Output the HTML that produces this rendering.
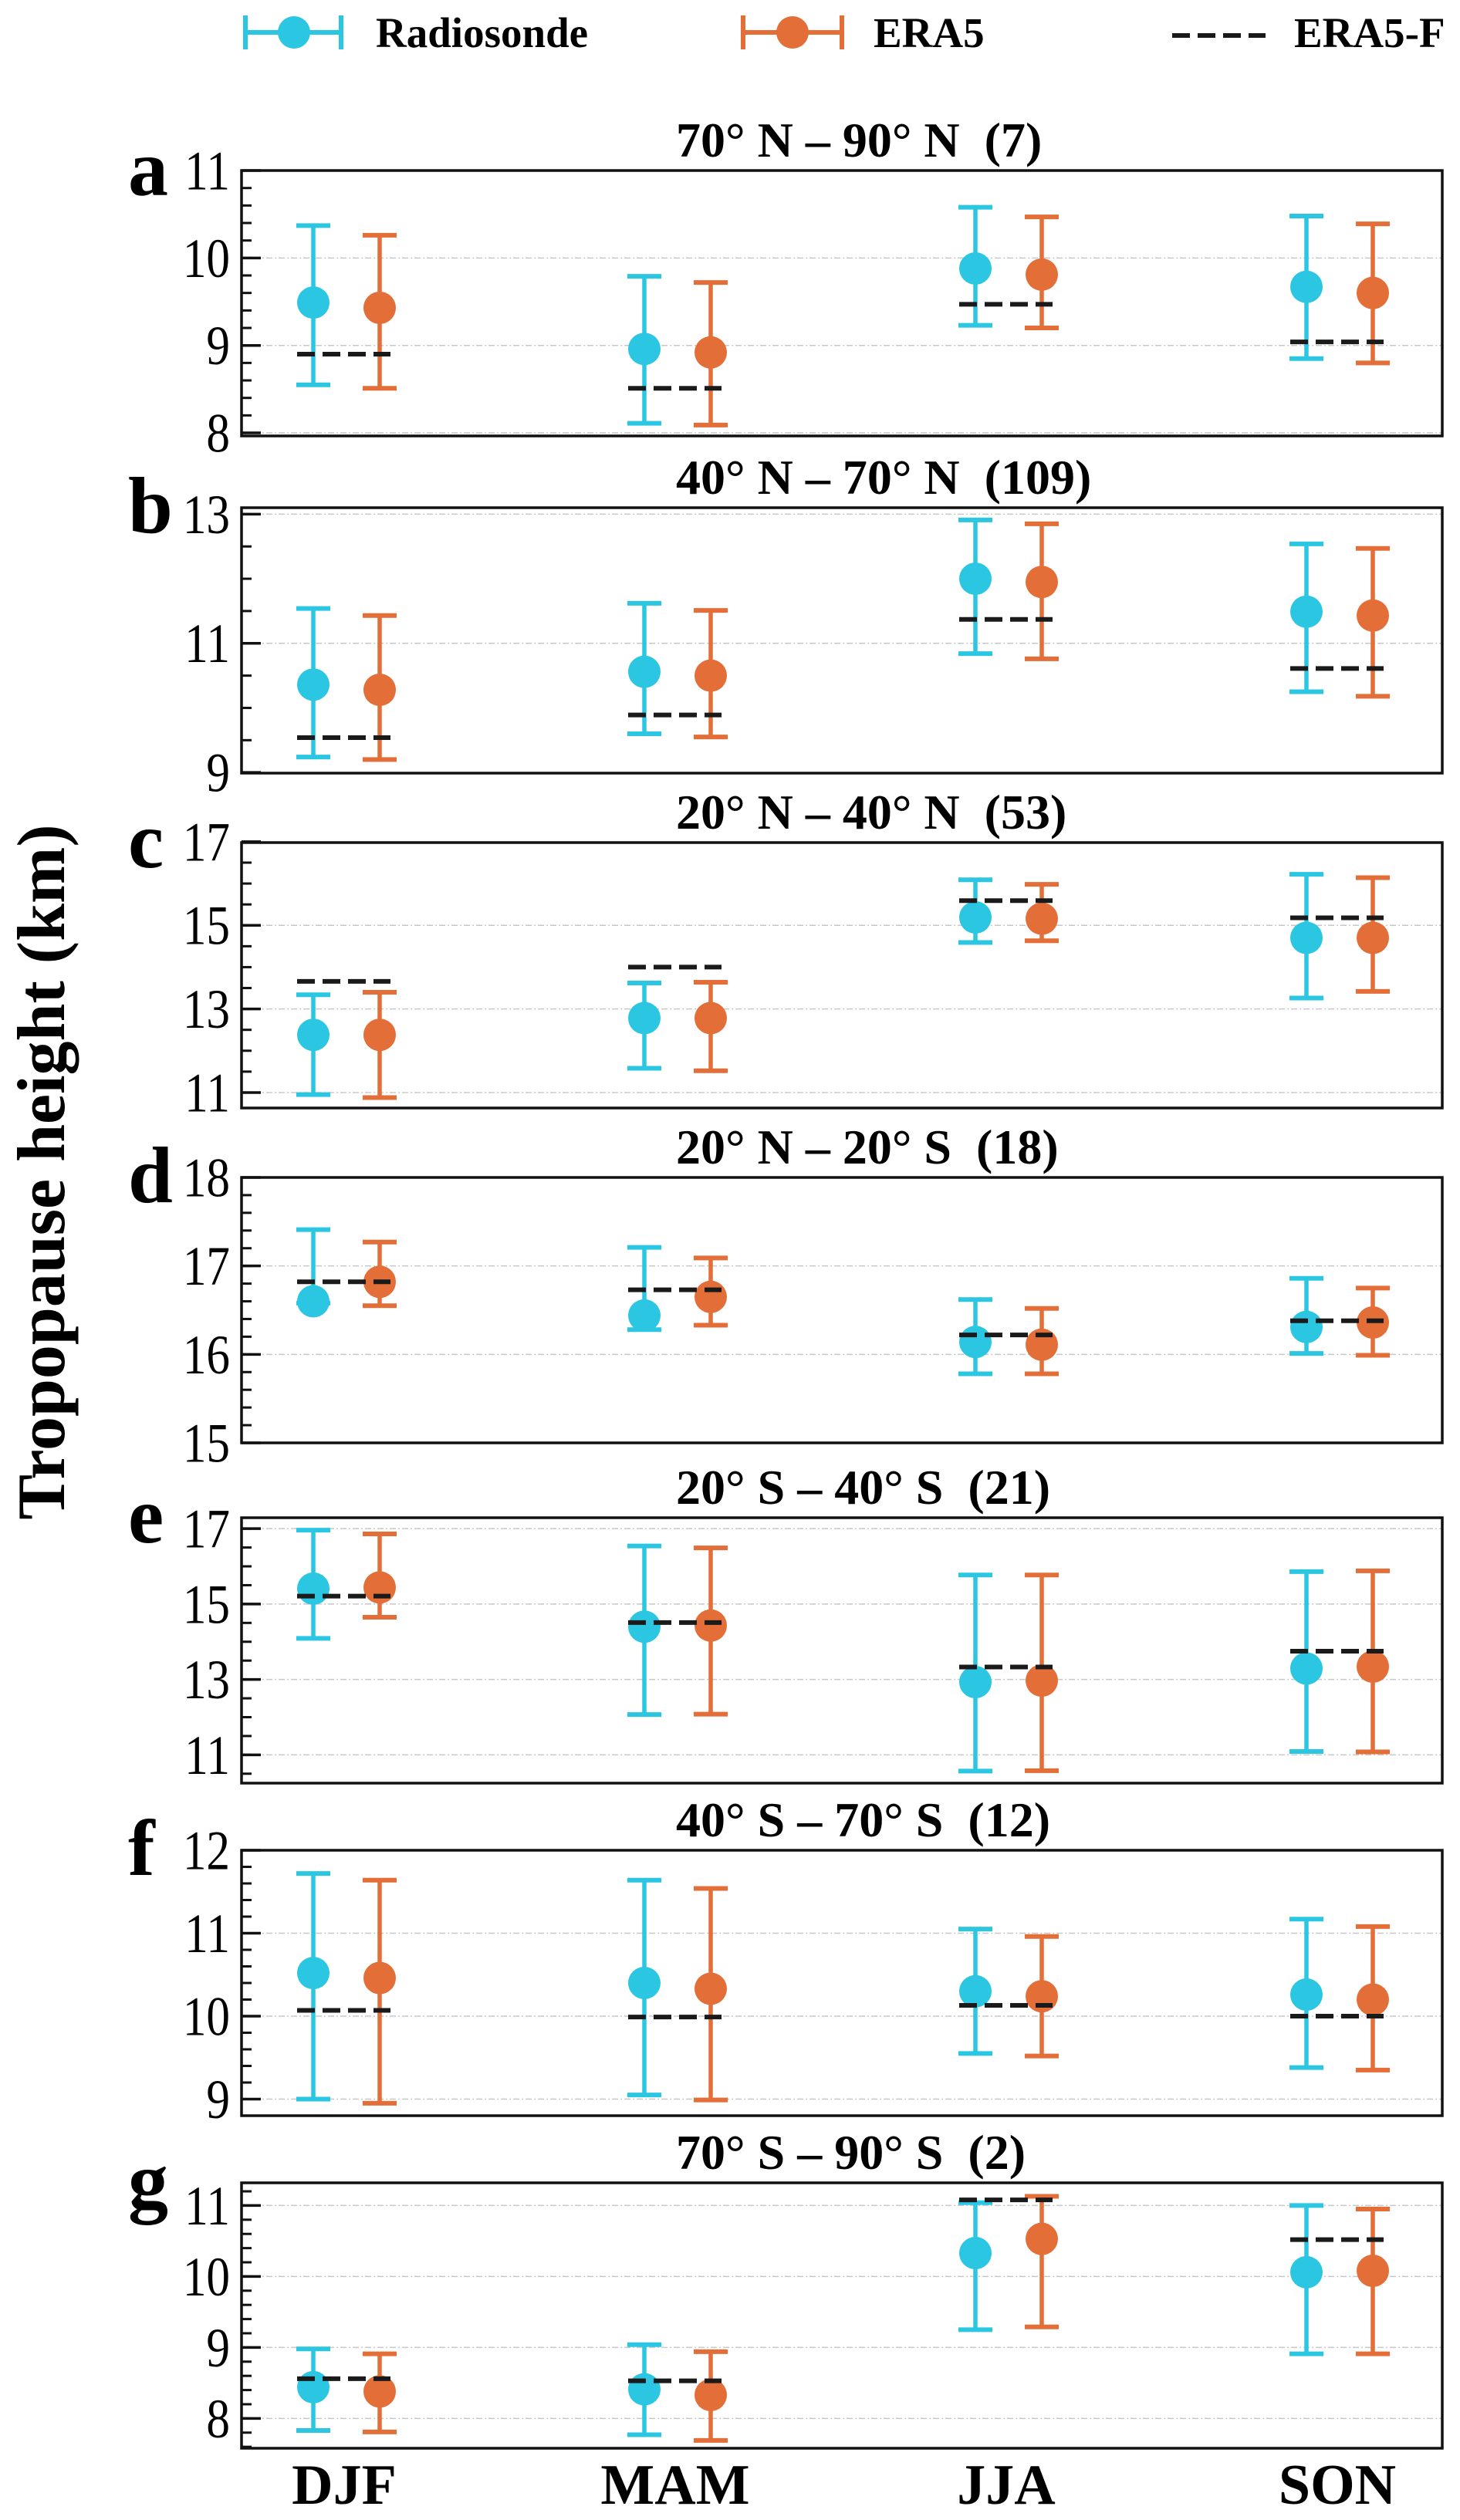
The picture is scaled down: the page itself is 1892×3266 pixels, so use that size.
<!DOCTYPE html>
<html><head><meta charset="utf-8"><title>Tropopause height by season</title>
<style>
html,body{margin:0;padding:0;background:#fff;}
svg{display:block;}
text{font-family:"Liberation Serif","Times New Roman",serif;}
.ttl{white-space:pre;}
</style></head>
<body>
<svg id="chart" xmlns="http://www.w3.org/2000/svg" width="1892" height="3266" viewBox="0 0 1892 3266">
  <g>
    <g>
      <line x1="316" y1="42" x2="444" y2="42" stroke="#2BC6E2" stroke-width="6"/>
      <line x1="318" y1="20" x2="318" y2="64" stroke="#2BC6E2" stroke-width="6"/>
      <line x1="442" y1="20" x2="442" y2="64" stroke="#2BC6E2" stroke-width="6"/>
      <circle cx="381" cy="42" r="21" fill="#2BC6E2"/>
      <text x="487" y="61" font-size="55" font-weight="bold">Radiosonde</text>
    </g>
    <g>
      <line x1="961" y1="42" x2="1093" y2="42" stroke="#E36E38" stroke-width="6"/>
      <line x1="963" y1="20" x2="963" y2="64" stroke="#E36E38" stroke-width="6"/>
      <line x1="1091" y1="20" x2="1091" y2="64" stroke="#E36E38" stroke-width="6"/>
      <circle cx="1027" cy="42" r="21" fill="#E36E38"/>
      <text x="1132" y="61" font-size="55" font-weight="bold">ERA5</text>
    </g>
    <g>
      <line x1="1519" y1="46" x2="1640" y2="46" stroke="#1a1a1a" stroke-width="6" stroke-dasharray="23,10"/>
      <text x="1677" y="61" font-size="55" font-weight="bold">ERA5-F</text>
    </g>
  </g>
  <text transform="translate(83,1519) rotate(-90)" text-anchor="middle" font-size="88" font-weight="bold">Tropopause height (km)</text>
  <g id="panels"></g>
</svg>
<script>
const seasons = ["DJF", "MAM", "JJA", "SON"];
const panelLetters = ["a", "b", "c", "d", "e", "f", "g"];
const panelTitles = ["70° N – 90° N  (7)", "40° N – 70° N  (109)", "20° N – 40° N  (53)", "20° N – 20° S  (18)", "20° S – 40° S  (21)", "40° S – 70° S  (12)", "70° S – 90° S  (2)"];
const yMin = [7.965, 8.99, 10.63, 15.0, 10.25, 8.8, 7.58];
const yMax = [11.0, 13.1, 16.98, 18.0, 17.29, 12.0, 11.32];
const majorTicks = [[8, 9, 10, 11], [9, 11, 13], [11, 13, 15, 17], [15, 16, 17, 18], [11, 13, 15, 17], [9, 10, 11, 12], [8, 9, 10, 11]];
const minorStep = [0.2, 0.5, 0.5, 0.2, 0.5, 0.2, 0.2];

const rsMean = [[9.49, 8.96, 9.88, 9.67], [10.36, 10.56, 12.0, 11.49], [12.38, 12.78, 15.19, 14.70], [16.60, 16.44, 16.14, 16.31], [15.41, 14.40, 12.93, 13.29], [10.52, 10.40, 10.30, 10.26], [8.44, 8.41, 10.33, 10.06]];
const rsHigh = [[10.37, 9.79, 10.58, 10.48], [11.54, 11.62, 12.91, 12.54], [13.34, 13.62, 16.09, 16.22], [17.41, 17.21, 16.62, 16.86], [16.96, 16.54, 15.77, 15.86], [11.72, 11.64, 11.05, 11.17], [8.98, 9.04, 11.04, 11.0]];
const rsLow = [[8.55, 8.11, 9.23, 8.85], [9.24, 9.60, 10.84, 10.25], [10.95, 11.58, 14.59, 13.26], [16.58, 16.28, 15.78, 16.01], [14.09, 12.07, 10.57, 11.09], [9.0, 9.05, 9.55, 9.38], [7.83, 7.77, 9.25, 8.91]];
const eraMean = [[9.43, 8.92, 9.81, 9.60], [10.28, 10.50, 11.95, 11.43], [12.38, 12.78, 15.16, 14.70], [16.82, 16.65, 16.11, 16.36], [15.44, 14.43, 12.97, 13.34], [10.46, 10.33, 10.24, 10.20], [8.38, 8.33, 10.53, 10.08]];
const eraHigh = [[10.26, 9.72, 10.47, 10.39], [11.43, 11.51, 12.85, 12.47], [13.40, 13.64, 15.98, 16.14], [17.27, 17.09, 16.52, 16.75], [16.86, 16.49, 15.77, 15.88], [11.64, 11.54, 10.96, 11.08], [8.91, 8.94, 11.13, 10.95]];
const eraLow = [[8.51, 8.09, 9.20, 8.80], [9.20, 9.55, 10.76, 10.18], [10.88, 11.52, 14.63, 13.42], [16.55, 16.33, 15.78, 15.99], [14.65, 12.08, 10.58, 11.08], [8.95, 8.99, 9.52, 9.35], [7.81, 7.69, 9.29, 8.91]];
const eraF = [[8.90, 8.51, 9.47, 9.04], [9.54, 9.89, 11.37, 10.61], [13.66, 14.0, 15.59, 15.18], [16.82, 16.73, 16.22, 16.38], [15.21, 14.51, 13.33, 13.75], [10.07, 9.99, 10.13, 10.0], [8.56, 8.53, 11.08, 10.52]];

const NS = "http://www.w3.org/2000/svg";
const CYAN = "#2BC6E2", ORANGE = "#E36E38";
const LEFT = 313, RIGHT = 1869, PH = 344;
const TOPS = [221, 658, 1092, 1526, 1967, 2398, 2829];
function xScale(i) { return 449 + 429 * i; }
function mk(tag, attrs, parent) {
  const e = document.createElementNS(NS, tag);
  for (const k in attrs) e.setAttribute(k, attrs[k]);
  parent.appendChild(e);
  return e;
}
const root = document.getElementById("panels");

for (let p = 0; p < 7; p++) {
  const top = TOPS[p], bot = top + PH;
  const lo = yMin[p], hi = yMax[p];
  const yS = v => bot - (v - lo) / (hi - lo) * PH;
  const g = mk("g", {}, root);
  
  

  majorTicks[p].forEach(t => {
    const y = yS(t);
    if (y > top + 2 && y < bot - 2) {
      const gl = mk("line", { x1: LEFT, x2: RIGHT, y1: y, y2: y, stroke: "#c8c8c8", "stroke-width": 1.5, "stroke-dasharray": "8,3,2,3" }, g);
      
      
    }
  });
  const st = minorStep[p];
  for (let v = Math.ceil(lo / st - 1e-6) * st; v <= hi + 1e-6; v += st) {
    const y = yS(v);
    if (y < top + 3 || y > bot - 1) continue;
    const mt = mk("line", { x1: LEFT, x2: LEFT + 13, y1: y, y2: y, stroke: "#111", "stroke-width": 3 }, g);
    
    
  }
  majorTicks[p].forEach(t => {
    const y = yS(t);
    const tk = mk("line", { x1: LEFT, x2: LEFT + 25, y1: y, y2: y, stroke: "#111", "stroke-width": 3.5 }, g);
    
    
    const tl = mk("text", { transform: "translate(298," + y + ") scale(0.85,1)", "text-anchor": "end", dy: "0.34em", "font-size": 72 }, g);
    tl.textContent = String(t);
    
    
  });

  for (let i = 0; i < 4; i++) {
    const c = xScale(i);
    const series = [
      { x: c - 43, m: rsMean[p][i], l: rsLow[p][i], h: rsHigh[p][i], col: CYAN, name: "radiosonde" },
      { x: c + 43, m: eraMean[p][i], l: eraLow[p][i], h: eraHigh[p][i], col: ORANGE, name: "era5" }
    ];
    series.forEach(s => {
      const eg = mk("g", {}, g);
      
      
      mk("line", { x1: s.x, x2: s.x, y1: yS(s.h), y2: yS(s.l), stroke: s.col, "stroke-width": 5.5 }, eg);
      mk("line", { x1: s.x - 22, x2: s.x + 22, y1: yS(s.h), y2: yS(s.h), stroke: s.col, "stroke-width": 6 }, eg);
      mk("line", { x1: s.x - 22, x2: s.x + 22, y1: yS(s.l), y2: yS(s.l), stroke: s.col, "stroke-width": 6 }, eg);
      mk("circle", { cx: s.x, cy: yS(s.m), r: 21, fill: s.col }, eg);
    });
    const fl = mk("line", { x1: c - 64, x2: c + 57, y1: yS(eraF[p][i]), y2: yS(eraF[p][i]), stroke: "#1a1a1a", "stroke-width": 6, "stroke-dasharray": "23,10" }, g);
    
    
  }

  const fr = mk("rect", { x: LEFT, y: top, width: RIGHT - LEFT, height: PH, fill: "none", stroke: "#111", "stroke-width": 3.5 }, g);
  
  

  const tt = mk("text", { x: 876, y: top - 18, "font-size": 64, "font-weight": "bold", "class": "ttl" }, g);
  tt.textContent = panelTitles[p];
  
  
  const pl = mk("text", { x: 166, y: top + 32, "font-size": 104, "font-weight": "bold" }, g);
  pl.textContent = panelLetters[p];
  
  
}

seasons.forEach((s, i) => {
  const t = mk("text", { x: xScale(i) - 3, y: 3245, "text-anchor": "middle", "font-size": 74, "font-weight": "bold" }, root);
  t.textContent = s;
  
  
});
</script>
</body></html>
